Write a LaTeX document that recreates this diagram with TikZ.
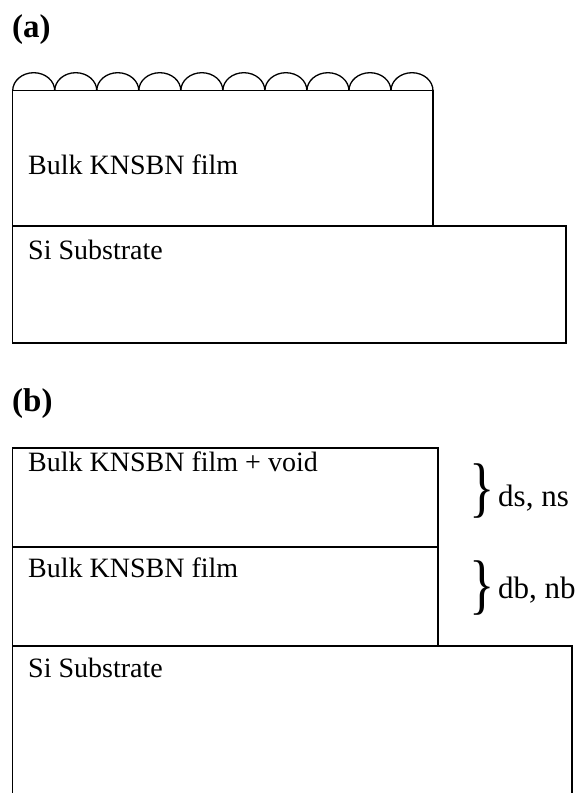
\documentclass[tikz,border=0pt]{standalone}
\usepackage{fontspec}
\setmainfont{Liberation Serif}
\begin{document}
\begin{tikzpicture}[x=1pt,y=1pt,
  layer/.style={draw, line width=1.3pt},
  lbl/.style={anchor=base west, inner sep=0pt, font=\fontsize{28}{28}\selectfont},
  sym/.style={anchor=base west, inner sep=0pt, font=\fontsize{31}{31}\selectfont},
  tag/.style={anchor=base west, inner sep=0pt, font=\fontsize{33}{33}\selectfont\bfseries},
  brc/.style={anchor=center, inner sep=0pt, font=\fontsize{66}{66}\selectfont}]
\useasboundingbox (0,0) rectangle (582,-793);
% ---------- (a)
\node[tag] (ta) at (12,-37) {(a)};
\foreach \i in {0,...,9} {
  \draw[layer] (12.7+42.03*\i,-90.7) arc[start angle=180,end angle=0,x radius=21.015pt,y radius=18pt];
}
\draw[layer] (12.7,-90.7) rectangle (433,-226);
\draw[layer] (12.7,-226) rectangle (566,-343);
\node[lbl] (fa) at (28,-174) {Bulk KNSBN film};
\node[lbl] (sa) at (28,-259) {Si Substrate};
% ---------- (b)
\node[tag] (tb) at (12,-411) {(b)};
\draw[layer] (12.7,-448) rectangle (438,-547);
\draw[layer] (12.7,-547) rectangle (438,-646);
\draw[layer] (12.7,-800) -- (12.7,-646) -- (572,-646) -- (572,-800);
\node[lbl] (fv) at (28,-471) {Bulk KNSBN film + void};
\node[lbl] (fb) at (28,-577) {Bulk KNSBN film};
\node[lbl] (sb) at (28,-677) {Si Substrate};
\node[brc] (b1) at (482,-491.5) {\scalebox{0.8}[1]{\}}};
\node[brc] (b2) at (482,-588.5) {\scalebox{0.8}[1]{\}}};
\node[sym] (ds) at (498,-506) {ds, ns};
\node[sym] (db) at (498,-598) {db, nb};
\end{tikzpicture}
\end{document}
